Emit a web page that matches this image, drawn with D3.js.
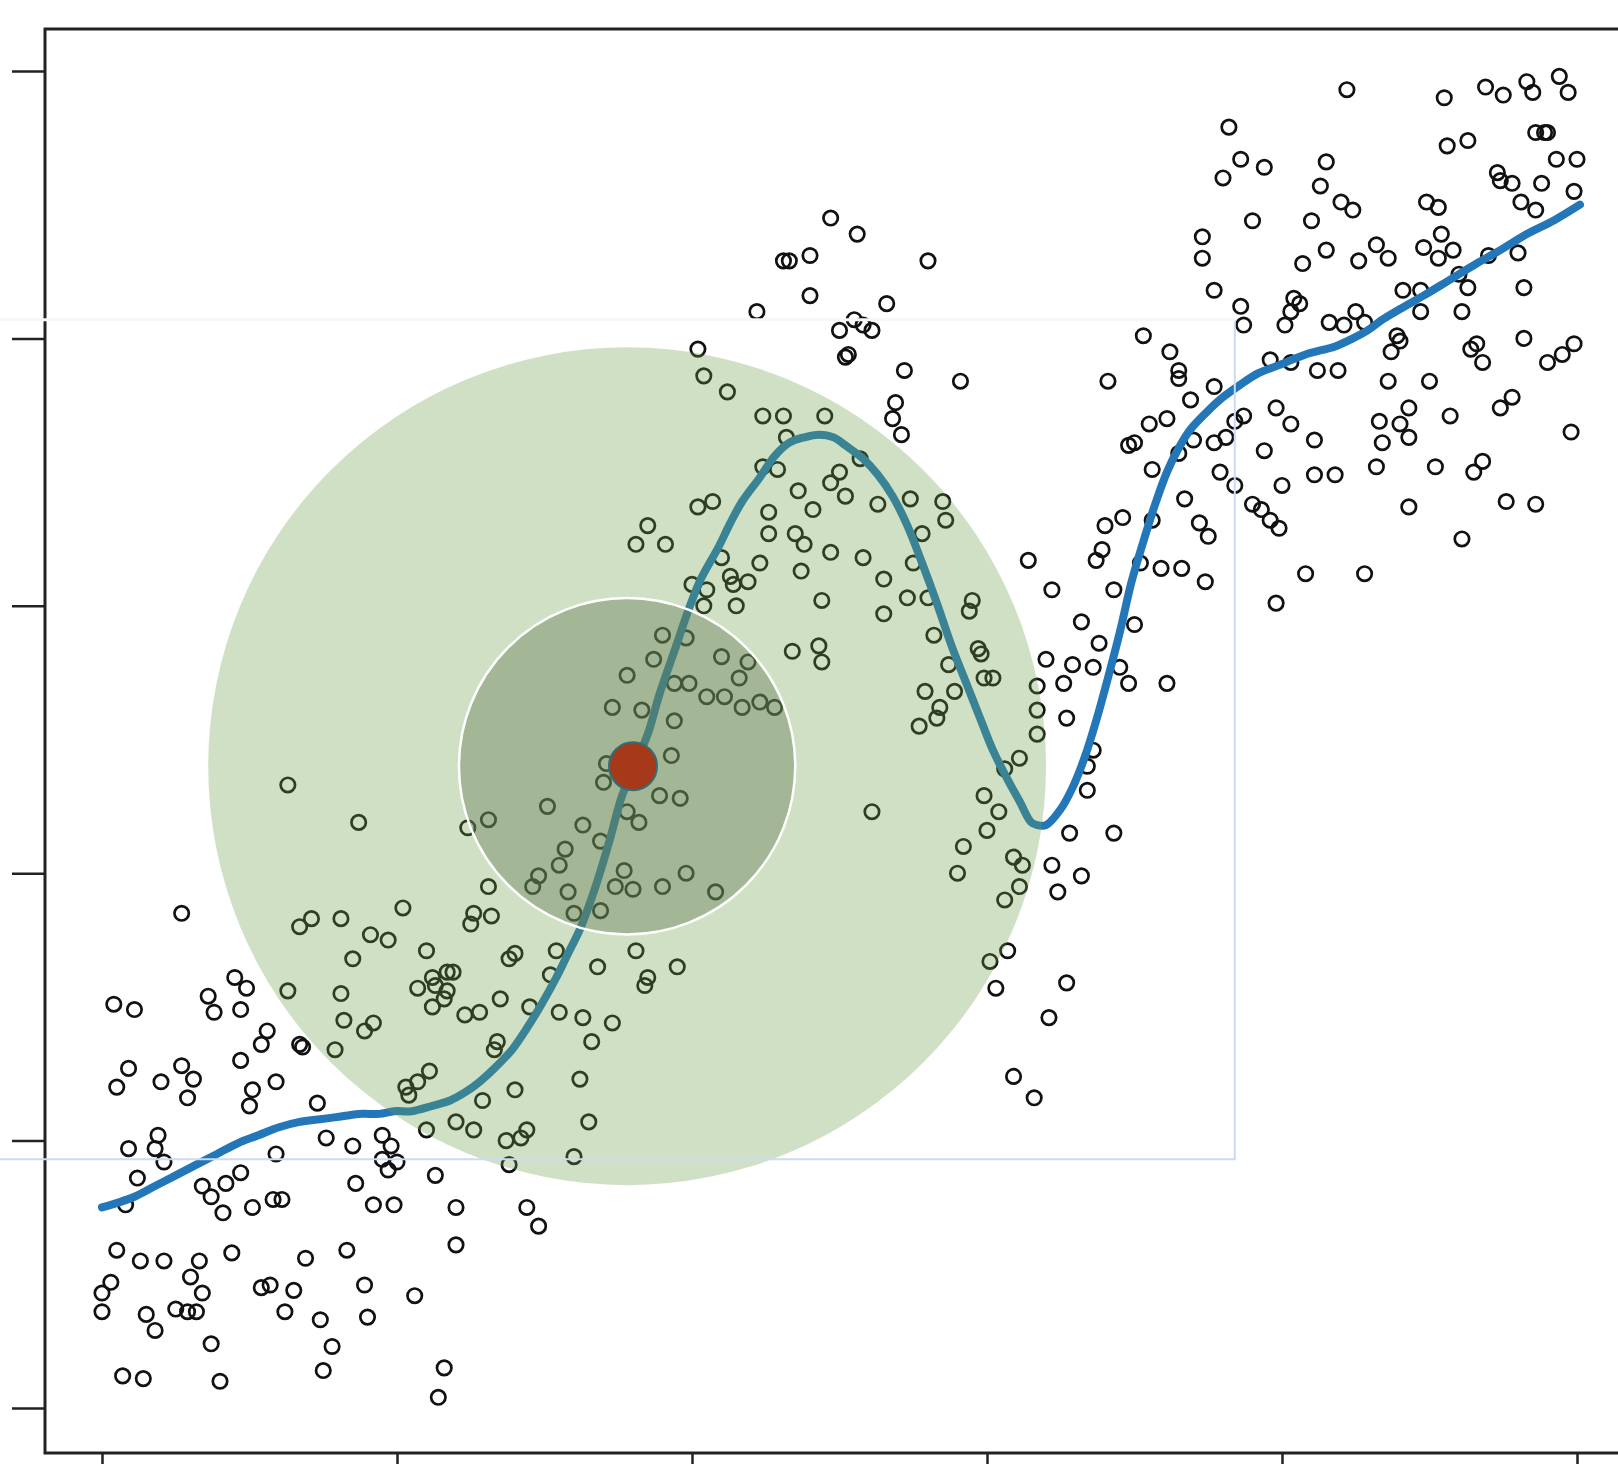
<!DOCTYPE html>
<html>
<head>
<meta charset="utf-8">
<script src="https://cdn.jsdelivr.net/npm/d3@7"></script>
<style>
  body { margin: 0; background: #fff; }
  svg { display: block; }
</style>
</head>
<body>
<script>
// tick positions (no labels shown in the original)
const tickValues = [0, 100, 200, 300, 400, 500];

const ptsRight = [
  [422,493],[455,490],[469,494],[475,491],[483,496],[485,492],[494,498],[497,492],[382,479],[486,477],
  [489,477],[490,477],[456,472],[463,474],[386,467],[394,464],[380,460],[415,466],[413,457],[493,467],
  [500,467],[473,462],[474,459],[478,458],[488,458],[499,455],[420,451],[424,448],[449,451],[453,449],
  [481,451],[486,448],[390,444],[410,444],[373,438],[373,430],[415,433],[407,428],[432,435],[426,429],
  [436,430],[448,434],[454,439],[458,433],[453,430],[470,431],[480,432],[377,418],[386,412],[387,405],
  [404,415],[406,413],[403,410],[401,405],[416,406],[421,405],[425,410],[428,406],[441,418],[447,418],
  [460,424],[463,419],[447,410],[461,410],[482,419],[439,401],[440,399],[437,395],[482,400],[466,398],
  [468,391],[464,396],[499,398],[495,394],[490,391],[396,392],[403,391],[412,388],[419,388],[436,384],
  [450,384],[377,382],[474,374],[478,378],[457,371],[498,365],[387,371],[384,369],[398,374],[403,368],
  [411,362],[394,358],[377,361],[381,363],[433,369],[440,368],[443,374],[443,363],[434,361],[432,352],
  [452,352],[468,354],[465,350],[379,350],[411,349],[418,349],[384,345],[400,345],[390,338],[393,336],
  [396,332],[399,329],[443,337],[476,339],[486,338],[372,331],[375,326],[461,325],[408,312],[428,312],
  [374,309],[398,301],
  [353,401],[362,395],[365,388],[365,385],[369,377],[341,384],[361,370],[355,368],[348,360],[350,361],
  [370,362],[365,357],[356,351],[367,340],[346,333],[340,330],[356,332],[339,321],[337,317],[314,317],
  [352,316],[359,314],[366,314],[322,306],[343,306],[332,294],[350,293],[338,286],[320,280],[329,278],
  [336,277],[345,277],[348,271],[361,271],[326,271],[327,258],[336,246],[334,240],[334,231],[328,215],
  [343,215],[322,203],[332,199],[324,193],[327,159],[321,146],[309,124],[316,116],[317,270],[317,261],
  [317,252],[311,243],[306,239],[299,229],[304,223],[300,216],[292,210],[290,200],[261,223],[309,206],
  [312,203],[311,195],[306,190],[307,171],[301,167],[303,157]
];

const ptsCenter = [
  [265,310],[273,303],[265,297],[280,303],[295,302],[294,298],[282,289],[297,284],[298,282],[287,278],
  [299,273],[302,273],[279,268],[289,268],[284,262],[283,258],[277,255],[250,350],[252,341],[263,338],
  [274,340],[285,339],[286,332],[278,327],[258,318],[275,316],[257,355],
  [247,445],[256,439],[231,429],[233,429],[240,431],[240,416],[222,410],[266,413],[280,429],[250,403],
  [255,407],[258,405],[261,403],[252,393],[253,394],[272,388],[291,384],[269,376],[268,370],[271,364],
  [202,396],[204,386],[212,380],[224,371],[231,371],[245,371],[232,363],[229,351],[236,343],[247,346],
  [224,352],
  [202,337],[207,339],[185,330],[181,323],[191,323],[226,335],[241,336],[226,327],[235,327],[238,323],
  [247,320],[223,316],[210,318],[213,311],[219,309],[214,308],[237,313],[200,308],[205,306],[204,300],
  [215,300],[244,302],[190,289],[198,288],[210,281],[234,283],[243,285],[244,279],[219,279],[187,280],
  [178,274],[194,271],[199,271],[205,266],[211,266],[216,273],[217,262],[223,264],[228,262],[173,262],
  [183,261],[194,257],[193,244],[171,241],[170,234],[189,229],[196,228],[151,225],[163,218],[182,219],
  [178,223],[131,220],[124,217],[169,212],[157,209],[155,203],[177,201],[174,195],[180,194],[190,195],
  [198,200],[208,193],[148,199],[146,195],[158,193],[131,195],[160,185],[169,186],[126,185],[125,181],
  [132,184],[154,171],[140,170],[138,168],[181,171],[168,165],[195,165],[185,161],[119,163],[152,162]
];

const ptsLeft = [
  [63,233],[87,219],[27,185],[67,180],[71,183],[81,183],[102,187],[91,177],[97,175],[85,168],
  [110,171],[45,161],[117,163],[112,161],[63,156],[81,155],[82,145],[89,141],[92,144],[79,134],
  [107,157],[113,158],[117,156],[112,150],[116,153],[103,120],[107,122],[111,126],[104,117],[110,104],
  [120,107],[123,147],[128,148],[135,153],[145,150],[155,148],[163,146],[173,144],[166,137],[134,137],
  [133,134],[162,123],[140,119],[129,115],[165,107],[126,104],[137,100],[144,104],[142,101],[160,94],
  [138,91],[184,158],
  [4,151],[11,149],[36,154],[38,148],[49,157],[47,149],[56,141],[54,136],[67,136],[68,135],
  [47,130],[9,127],[5,120],[20,122],[27,128],[31,123],[29,116],[51,119],[50,113],[59,122],
  [73,114],[76,101],[85,98],[95,102],[98,98],[95,93],[97,89],[100,92],[113,87],[120,75],
  [120,61],[86,84],[92,76],[99,76],[59,95],[9,97],[19,102],[18,97],[21,92],[12,86],
  [8,76],[34,83],[42,84],[47,88],[37,79],[41,73],[51,75],[58,78],[61,78],[5,59],
  [13,55],[21,55],[44,58],[33,55],[30,49],[34,43],[3,47],[0,43],[0,36],[15,35],
  [18,29],[25,37],[29,36],[32,36],[54,45],[57,46],[65,44],[62,36],[69,56],[83,59],
  [89,46],[90,34],[74,33],[78,23],[75,14],[37,24],[7,12],[14,11],[40,10],[106,42],
  [116,15],[114,4],[144,75],[148,68]
];

// smoothed fit
const fitX = [0,6,11,18,25,32,39,46,53,60,67,74,81,88,94,99,105,112,118,123,128,133,139,144,149,154,158,162,167,172,
  176,180,185,189,194,199,203,209,213,217,223,228,233,238,243,248,252,258,263,268,273,278,283,288,293,298,302,307,311,315,
  317,320,325,329,333,337,341,345,349,353,357,361,365,369,375,380,385,392,399,408,418,424,429,434,440,448,457,466,
  474,483,492,501];
const fitY = [75,77,79,83,87,91,95,99,102,105,107,108,109,110,110,111,111,113,115,118,122,127,134,142,151,161,170,179,194,212,
  228,239,252,267,283,299,310,322,331,339,348,356,361,363,364,363,360,355,349,341,330,316,301,285,271,257,246,235,227,219,
  218,218,224,232,243,257,273,290,309,324,338,350,359,366,373,378,382,387,390,394,397,400,403,407,411,416,422,428,
  433,439,444,450];

const focus = {x: 180, y: 240};
const neighbourhood = {x: 178, y: 240, inner: 57, outer: 142};
const box = {x0: -40, x1: 384, y0: 93, y1: 407};

const width = 1618, height = 1464,
      frame = {left: 45, top: 29, right: 1660, bottom: 1453};

const svg = d3.select("body")
  .append("svg")
  .attr("width", width)
  .attr("height", height);

const xScale = d3.scaleLinear().domain([0, 500]).range([102, 1577]),
      yScale = d3.scaleLinear().domain([0, 500]).range([1408, 71]),
      rScale = (r) => xScale(r) - xScale(0);

const points = ptsRight.concat(ptsCenter, ptsLeft);

svg.append("g")
  .selectAll("circle")
  .data(points).enter()
  .append("circle")
  .attr("cx", (d) => xScale(d[0]))
  .attr("cy", (d) => yScale(d[1]))
  .attr("r", 7.2)
  .attr("fill", "none")
  .attr("stroke", "#111")
  .attr("stroke-width", 2.7);

const fit = d3.line()
  .x((d) => xScale(d[0]))
  .y((d) => yScale(d[1]))
  .curve(d3.curveCatmullRom);

svg.append("path")
  .datum(d3.zip(fitX, fitY))
  .attr("d", fit)
  .attr("fill", "none")
  .attr("stroke", "#2377b8")
  .attr("stroke-width", 8)
  .attr("stroke-linejoin", "round")
  .attr("stroke-linecap", "round");

// neighbourhood rings
svg.append("circle")
  .attr("cx", xScale(neighbourhood.x))
  .attr("cy", yScale(neighbourhood.y))
  .attr("r", rScale(neighbourhood.outer))
  .attr("fill", "rgb(109,159,75)")
  .attr("fill-opacity", 0.32);

svg.append("circle")
  .attr("cx", xScale(neighbourhood.x))
  .attr("cy", yScale(neighbourhood.y))
  .attr("r", rScale(neighbourhood.inner))
  .attr("fill", "rgb(100,125,85)")
  .attr("fill-opacity", 0.42)
  .attr("stroke", "#fff")
  .attr("stroke-width", 2.5);

// frame + ticks
svg.append("path")
  .attr("d", `M${frame.right},${frame.top}H${frame.left}V${frame.bottom}H${frame.right}`)
  .attr("fill", "none")
  .attr("stroke", "#222")
  .attr("stroke-width", 3);

const yAxis = d3.axisLeft(yScale).tickValues(tickValues).tickFormat("")
  .tickSizeInner(33).tickSizeOuter(0);
const xAxis = d3.axisBottom(xScale).tickValues(tickValues).tickFormat("")
  .tickSizeInner(33).tickSizeOuter(0);

svg.append("g")
  .attr("transform", "translate(" + frame.left + ",0)")
  .call(yAxis)
  .call((g) => g.select(".domain").remove())
  .selectAll("line").attr("stroke", "#222").attr("stroke-width", 2.5);

svg.append("g")
  .attr("transform", "translate(0," + frame.bottom + ")")
  .call(xAxis)
  .call((g) => g.select(".domain").remove())
  .selectAll("line").attr("stroke", "#222").attr("stroke-width", 2.5);

// faint highlight box
svg.append("path")
  .attr("d", `M${xScale(box.x0)},${yScale(box.y0)}H${xScale(box.x1)}V${yScale(box.y1)}`)
  .attr("fill", "none")
  .attr("stroke", "#c9dcf3")
  .attr("stroke-width", 2);

svg.append("line")
  .attr("x1", xScale(box.x0)).attr("x2", xScale(box.x1))
  .attr("y1", yScale(box.y1)).attr("y2", yScale(box.y1))
  .attr("stroke", "#f5f7fb")
  .attr("stroke-width", 3);

// focal point
svg.append("circle")
  .attr("cx", xScale(focus.x))
  .attr("cy", yScale(focus.y))
  .attr("r", 24)
  .attr("fill", "#a5391a")
  .attr("stroke", "#2f6f78")
  .attr("stroke-width", 2);
</script>
</body>
</html>
